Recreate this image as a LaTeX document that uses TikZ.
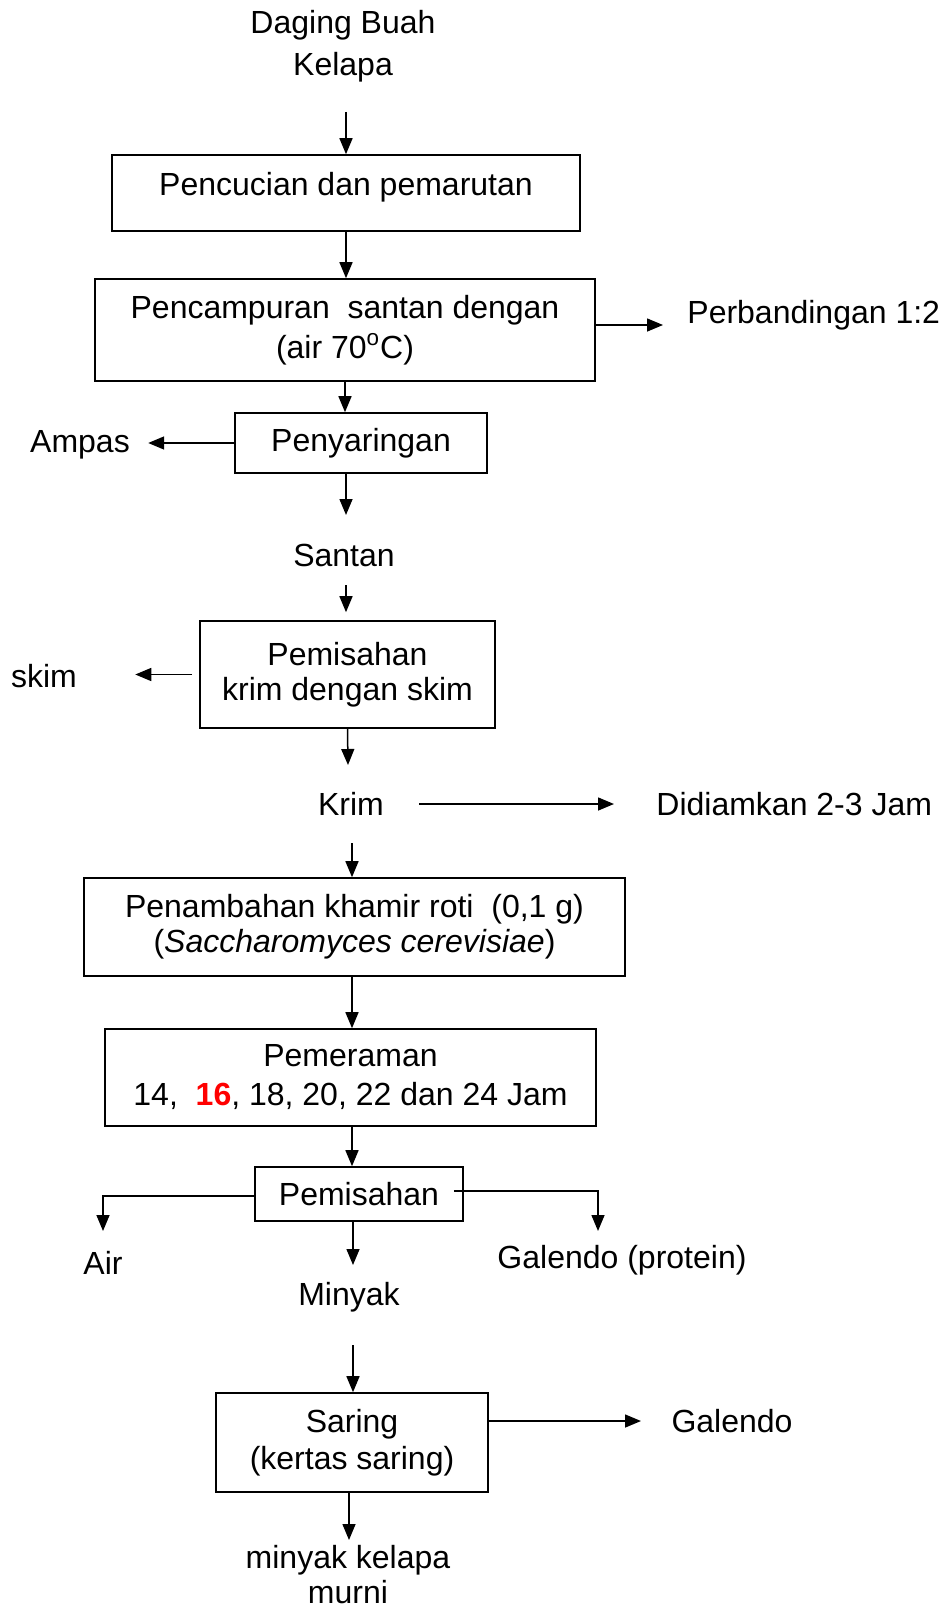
\documentclass[tikz,border=0pt]{standalone}
\usepackage{fontspec}
\setmainfont{Liberation Sans}
\usetikzlibrary{arrows.meta}
\begin{document}
\begin{tikzpicture}[x=0.5pt,y=-0.5pt,
  box/.style={draw,line width=0.8pt,inner sep=0pt,align=center,font=\fontsize{16}{19}\selectfont},
  lbl/.style={inner sep=0pt,align=center,font=\fontsize{16}{19}\selectfont},
  arr/.style={line width=0.75pt,-{Triangle[length=8pt,width=6.5pt]}}]
\useasboundingbox (0,0) rectangle (940,1611);

\node[lbl,font=\fontsize{16}{21}\selectfont] (daging) at (343,46) {Daging Buah\\Kelapa};
\node[box,minimum width=234pt,minimum height=38pt,text depth=9.5pt] (b1) at (346,193) {Pencucian dan pemarutan};
\node[box,minimum width=250pt,minimum height=51pt,font=\fontsize{16}{20}\selectfont] (b2) at (345,330) {Pencampuran \ santan dengan\\(air 70\textsuperscript{o}C)};
\node[lbl,anchor=west] (perb) at (687,315) {Perbandingan 1:2};
\node[box,minimum width=126pt,minimum height=30pt] (b3) at (361,443) {Penyaringan};
\node[lbl] (ampas) at (80,445) {Ampas};
\node[lbl] (santan) at (344,555) {Santan};
\node[box,minimum width=147.5pt,minimum height=53.5pt,font=\fontsize{16}{17.5}\selectfont] (b4) at (347.5,674.5) {Pemisahan\\krim dengan skim};
\node[lbl] (skim) at (44,676) {skim};
\node[lbl] (krim) at (351,804) {Krim};
\node[lbl,anchor=west] (didi) at (656,804) {Didiamkan 2-3 Jam};
\node[box,minimum width=270.5pt,minimum height=49pt,font=\fontsize{16}{17.5}\selectfont] (b5) at (354.5,927) {Penambahan khamir roti \ (0,1 g)\\(\textit{Saccharomyces cerevisiae})};
\node[box,minimum width=245.5pt,minimum height=48.5pt,font=\fontsize{16}{19.5}\selectfont] (b6) at (350.5,1077.5) {Pemeraman\\14, \ \textcolor{red}{\textbf{16}}, 18, 20, 22 dan 24 Jam};
\node[box,minimum width=104pt,minimum height=27pt] (b7) at (359,1194) {Pemisahan};
\node[lbl] (air) at (103,1263) {Air};
\node[lbl] (galp) at (622,1260) {Galendo (protein)};
\node[lbl] (minyak) at (349,1297) {Minyak};
\node[box,minimum width=136pt,minimum height=49.5pt,font=\fontsize{16}{18.5}\selectfont] (b8) at (352,1442.5) {Saring\\(kertas saring)};
\node[lbl] (gal) at (732,1421) {Galendo};
\node[lbl,font=\fontsize{16}{17.5}\selectfont] (mkm) at (348,1575) {minyak kelapa\\murni};

\coordinate (a0) at (346,112);
\coordinate (pe) at (663,325);
\coordinate (s1) at (346,515);
\coordinate (s2) at (346,585);
\coordinate (k1) at (348,765);
\coordinate (k2) at (352,843);
\coordinate (g1) at (598,1231);
\coordinate (m0) at (353,1265);
\coordinate (m1) at (353,1345);
\coordinate (ge) at (641,1421);
\coordinate (mk) at (349,1540);

\draw[arr] (a0) -- (b1.north);
\draw[arr] (b1.south) -- (b1.south |- b2.north);
\draw[arr] (b2.south) -- (b2.south |- b3.north);
\draw[arr] (b2.east |- pe) -- (pe);
\draw[arr,shorten >=9pt] (b3.west) -- (b3.west -| ampas.east);
\draw[arr] (s1 |- b3.south) -- (s1);
\draw[arr,shorten >=4pt] (s2) -- (s2 |- b4.north);
\draw[arr,shorten <=3.5pt,shorten >=29pt] (b4.west) -- (b4.west -| skim.east);
\draw[arr] (b4.south) -- (k1);
\draw[arr,shorten <=17.5pt,shorten >=21pt] (krim.east) -- (krim.east -| didi.west);
\draw[arr] (k2) -- (k2 |- b5.north);
\draw[arr] (b5.south -| k2) -- (b6.north -| k2);
\draw[arr] (b6.south -| k2) -- (b7.north -| k2);
\draw[arr,shorten >=10pt] ([yshift=-1pt]b7.west) -| (air.north);
\draw[arr] ([xshift=-5pt,yshift=1.5pt]b7.east) -| (g1);
\draw[arr] (b7.south -| m0) -- (m0);
\draw[arr] (m1) -- (m1 |- b8.north);
\draw[arr] (b8.east |- ge) -- (ge);
\draw[arr] (b8.south -| mk) -- (mk);
\end{tikzpicture}
\end{document}
